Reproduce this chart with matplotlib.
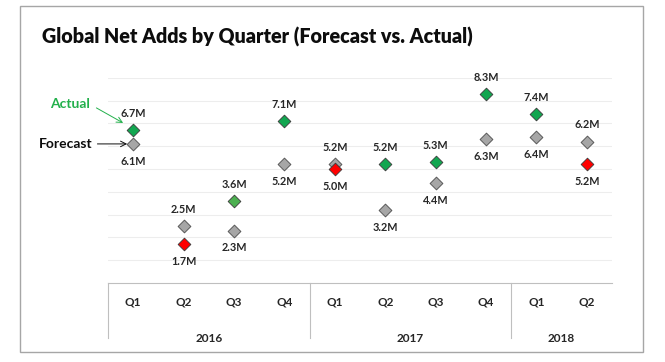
import matplotlib.pyplot as plt
from matplotlib.patches import Rectangle

quarters = ['Q1', 'Q2', 'Q3', 'Q4', 'Q1', 'Q2', 'Q3', 'Q4', 'Q1', 'Q2']
years = ['2016', '2017', '2018']
year_counts = [4, 4, 2]
forecast = [6.1, 2.5, 2.3, 5.2, 5.2, 3.2, 4.4, 6.3, 6.4, 6.2]
actual = [6.7, 1.7, 3.6, 7.1, 5.0, 5.2, 5.3, 8.3, 7.4, 5.2]

W, H = 665, 362
fig = plt.figure(figsize=(W / 100, H / 100), dpi=100)
plt.rcParams['font.family'] = ['Lato', 'DejaVu Sans']

# plot area in pixels
x0, x1 = 108, 612
y_axis, y_top = 283, 77.8
ax_h = y_axis - y_top
ax = fig.add_axes([x0 / W, (H - y_axis) / H, (x1 - x0) / W, ax_h / H])
ax.set_xlim(-0.5, len(quarters) - 0.5)
ax.set_ylim(0, 9)
for s in ['top', 'right', 'left']:
    ax.spines[s].set_visible(False)
ax.spines['bottom'].set_color('#bfbfbf')
ax.set_yticks(range(1, 10))
ax.yaxis.grid(True, color='#ededed', linewidth=0.8)
ax.set_axisbelow(True)
ax.tick_params(left=False, labelleft=False, bottom=False, labelbottom=False)

green = '#12a650'
for i, (f, a) in enumerate(zip(forecast, actual)):
    ax.scatter(i, f, marker='D', s=42, color='#a6a6a6', edgecolor='#595959', linewidth=0.7, zorder=3)
    col = green if a >= f else '#ff0000'
    if i == 2:
        col = '#4cb050'
    ax.scatter(i, a, marker='D', s=42, color=col, edgecolor='#3a3a3a', linewidth=0.6, zorder=4)
    hi, lo = (a, f) if a >= f else (f, a)
    ax.annotate(f'{hi:.1f}M', (i, hi), xytext=(0, 12), textcoords='offset points',
                ha='center', va='center', fontsize=7.8, fontweight='bold', color='#262626')
    ax.annotate(f'{lo:.1f}M', (i, lo), xytext=(0, -12.5), textcoords='offset points',
                ha='center', va='center', fontsize=7.8, fontweight='bold', color='#262626')

# category axis
tr = ax.get_xaxis_transform()
for i, q in enumerate(quarters):
    ax.text(i, -19 / ax_h, q, transform=tr, ha='center', va='center',
            fontsize=8.5, fontweight='bold', color='#262626')
start = 0
for yr, n in zip(years, year_counts):
    ax.plot([start - 0.5, start - 0.5], [0, -55 / ax_h], transform=tr,
            color='#bfbfbf', linewidth=0.8, clip_on=False)
    ax.text(start + n / 2 - 0.5, -56 / ax_h, yr, transform=tr, ha='center', va='center',
            fontsize=8.5, fontweight='bold', color='#262626')
    start += n

# callouts for the two series
ax.text(-0.85, 7.85, 'Actual', ha='right', va='center', fontsize=10,
        fontweight='bold', color='#22b04b')
ax.annotate('', xy=(-0.2, 7.02), xytext=(-0.73, 7.68), annotation_clip=False,
            arrowprops=dict(arrowstyle='->', color='#22b04b', lw=0.7, shrinkA=0, shrinkB=0))
ax.text(-0.81, forecast[0], 'Forecast', ha='right', va='center', fontsize=10,
        fontweight='bold', color='#0d0d0d')
ax.annotate('', xy=(-0.12, forecast[0]), xytext=(-0.71, forecast[0]), annotation_clip=False,
            arrowprops=dict(arrowstyle='->', color='#0d0d0d', lw=0.7, shrinkA=0, shrinkB=0))

fig.text(42 / W, 1 - 37 / H, 'Global Net Adds by Quarter (Forecast vs. Actual)',
         fontsize=14.2, fontweight='heavy', va='center', ha='left', color='#0d0d0d')

fig.add_artist(Rectangle((20 / W, 10 / H), 623 / W, 346 / H, transform=fig.transFigure,
                         fill=False, edgecolor='#a6a6a6', linewidth=1))

fig.savefig('out.png', dpi=100)
